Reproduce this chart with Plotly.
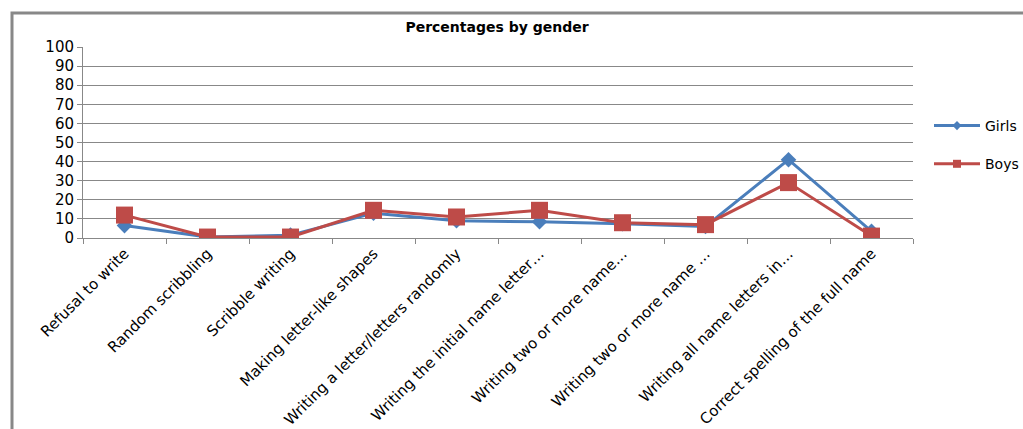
import plotly.graph_objects as go

categories = [
    "Refusal to write",
    "Random scribbling",
    "Scribble writing",
    "Making letter-like shapes",
    "Writing a letter/letters randomly",
    "Writing the initial name letter…",
    "Writing two or more name…",
    "Writing two or more name …",
    "Writing all name letters in…",
    "Correct spelling of the full name",
]
girls = [6.5, 0.5, 1.5, 13.0, 9.0, 8.5, 7.5, 6.0, 41.0, 3.5]
boys = [12.0, 0.5, 0.5, 14.5, 11.0, 14.5, 8.0, 7.0, 29.0, 1.0]
y_ticks = list(range(0, 101, 10))

BLUE = "#4a7ebb"
RED = "#be4b48"
FONT = "DejaVu Sans, Verdana, sans-serif"

# pixel geometry of the plot area
L, R, T, B = 83, 913, 47, 238
W, H = 1023, 429

def px(x):
    return (x - L) / (R - L)

def py(y):
    return (B - y) / (B - T)

fig = go.Figure()
fig.add_trace(go.Scatter(
    x=categories, y=girls, name="Girls", mode="lines+markers",
    line=dict(color=BLUE, width=3),
    marker=dict(symbol="diamond", size=12, color=BLUE),
    showlegend=False,
))
fig.add_trace(go.Scatter(
    x=categories, y=boys, name="Boys", mode="lines+markers",
    line=dict(color=RED, width=3),
    marker=dict(symbol="square", size=17, color=RED),
    showlegend=False,
))
# legend entries (smaller markers, as in the reference legend)
fig.add_trace(go.Scatter(
    x=[None], y=[None], name="Girls", mode="lines+markers",
    line=dict(color=BLUE, width=3),
    marker=dict(symbol="diamond", size=7, color=BLUE),
    legendgroup="g",
))
fig.add_trace(go.Scatter(
    x=[None], y=[None], name="Boys", mode="lines+markers",
    line=dict(color=RED, width=3),
    marker=dict(symbol="square", size=8, color=RED),
    legendgroup="b",
))

fig.update_layout(
    width=W, height=H,
    margin=dict(l=L, r=W - R, t=T, b=H - B, autoexpand=False),
    paper_bgcolor="white", plot_bgcolor="white",
    font=dict(family=FONT, size=15, color="black"),
    title=dict(text="<b>Percentages by gender</b>", x=497 / W,
               xanchor="center", xref="container",
               y=1 - 27 / H, yanchor="middle",
               font=dict(family=FONT, size=14, color="black")),
    showlegend=True,
    legend=dict(x=px(929), xanchor="left", y=py(110), yanchor="top",
                font=dict(family=FONT, size=14, color="black"),
                itemsizing="trace", itemwidth=46, tracegroupgap=17,
                bgcolor="rgba(0,0,0,0)"),
    xaxis=dict(
        tickangle=-45, tickson="boundaries", ticks="outside", ticklen=5,
        tickcolor="#888888", showline=True, linecolor="#888888", linewidth=1,
        showgrid=False, tickfont=dict(family=FONT, size=15, color="black"),
        range=[-0.5, len(categories) - 0.5], fixedrange=True, automargin=False,
    ),
    yaxis=dict(
        range=[0, 100], tickvals=y_ticks, ticks="outside", ticklen=5,
        tickcolor="#888888", showline=True, linecolor="#888888", linewidth=1,
        showgrid=True, gridcolor="#888888", gridwidth=1,
        tickfont=dict(family=FONT, size=15, color="black"), zeroline=False,
        automargin=False,
    ),
    shapes=[dict(
        type="rect", xref="paper", yref="paper",
        x0=px(12), x1=px(1040), y0=py(460), y1=py(13),
        line=dict(color="#888888", width=3), fillcolor="rgba(0,0,0,0)",
        layer="below",
    )],
)

fig.write_html("out.html")
